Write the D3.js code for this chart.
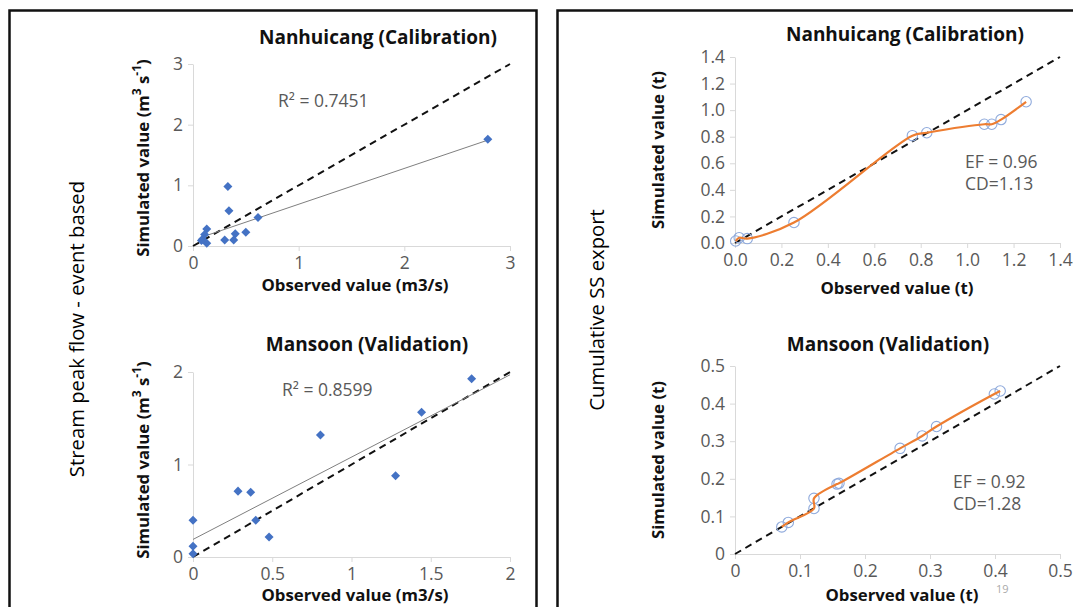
<!DOCTYPE html>
<html>
<head>
<meta charset="utf-8">
<script src="https://cdn.jsdelivr.net/npm/d3@7"></script>
<style>
  html, body { margin: 0; padding: 0; background: #fff; }
  svg { display: block; }
  text { font-family: "Open Sans", "Noto Sans", sans-serif; }
</style>
</head>
<body>
<svg id="chart" width="1073" height="607"></svg>
<script>
// ---------------- DATA ----------------
// Stream peak flow, Nanhuicang (Calibration)
const peakCalObs = [2.79, 0.33, 0.34, 0.615, 0.50, 0.40, 0.385, 0.30, 0.13, 0.11, 0.09, 0.13, 0.08];
const peakCalSim = [1.76, 0.98, 0.58, 0.47, 0.225, 0.20, 0.10, 0.10, 0.28, 0.19, 0.11, 0.045, 0.09];
const peakCalTrendX = [0.08, 2.79];
const peakCalTrendY = [0.145, 1.745];
const peakCalR2 = "R\u00B2 = 0.7451";
const peakCalTicks = [0, 1, 2, 3];

// Stream peak flow, Mansoon (Validation)
const peakValObs = [1.758, 1.442, 1.278, 0.804, 0.284, 0.364, 0.396, 0.48, 0.0, 0.0, 0.0];
const peakValSim = [1.928, 1.566, 0.879, 1.32, 0.712, 0.70, 0.398, 0.217, 0.398, 0.116, 0.036];
const peakValTrendX = [0, 2];
const peakValTrendY = [0.19, 1.97];
const peakValR2 = "R\u00B2 = 0.8599";
const peakValXTicks = [0, 0.5, 1, 1.5, 2];
const peakValYTicks = [0, 1, 2];

// Cumulative SS export, Nanhuicang (Calibration)
const ssCalObs = [0.003, 0.018, 0.053, 0.254, 0.764, 0.826, 1.074, 1.106, 1.146, 1.254];
const ssCalSim = [0.015, 0.040, 0.033, 0.154, 0.808, 0.830, 0.894, 0.894, 0.929, 1.063];
const ssCalTicks = [0, 0.2, 0.4, 0.6, 0.8, 1.0, 1.2, 1.4];
const ssCalStats = ["EF = 0.96", "CD=1.13"];

// Cumulative SS export, Mansoon (Validation)
const ssValObs = [0.072, 0.082, 0.1215, 0.1215, 0.157, 0.16, 0.254, 0.288, 0.31, 0.399, 0.408];
const ssValSim = [0.072, 0.084, 0.121, 0.148, 0.186, 0.188, 0.281, 0.314, 0.339, 0.4255, 0.4335];
const ssValTicks = [0, 0.1, 0.2, 0.3, 0.4, 0.5];
const ssValStats = ["EF = 0.92", "CD=1.28"];

const leftGroupLabel = "Stream peak flow - event based";
const rightGroupLabel = "Cumulative SS export";

// ---------------- DRAW ----------------
const svg = d3.select("#chart");
const AXIS = "#d9d9d9", LABEL = "#595959";
const TICKFS = 17.5;

// frames
svg.append("rect").attr("x", 9.5).attr("y", 10.5).attr("width", 527).attr("height", 620)
  .attr("fill", "none").attr("stroke", "#111").attr("stroke-width", 2.5);
svg.append("rect").attr("x", 557.5).attr("y", 10.5).attr("width", 540).attr("height", 620)
  .attr("fill", "none").attr("stroke", "#111").attr("stroke-width", 2.5);

svg.append("text").attr("transform", "translate(84,329) rotate(-90)")
  .attr("text-anchor", "middle").attr("font-size", 20.3).attr("font-weight", 500).attr("fill", "#000").text(leftGroupLabel);
svg.append("text").attr("transform", "translate(604,310) rotate(-90)")
  .attr("text-anchor", "middle").attr("font-size", 20.3).attr("font-weight", 500).attr("fill", "#000").text(rightGroupLabel);

function panel(cfg) {
  const g = svg.append("g");
  const x = d3.scaleLinear().domain(cfg.xDomain).range(cfg.xRange);
  const y = d3.scaleLinear().domain(cfg.yDomain).range(cfg.yRange);

  const xa = g.append("g").attr("transform", `translate(0,${cfg.yRange[0]})`)
    .call(d3.axisBottom(x).tickValues(cfg.xTicks).tickFormat(cfg.xFmt).tickSize(5).tickSizeOuter(0).tickPadding(6));
  const ya = g.append("g").attr("transform", `translate(${cfg.xRange[0]},0)`)
    .call(d3.axisLeft(y).tickValues(cfg.yTicks).tickFormat(cfg.yFmt).tickSize(5).tickSizeOuter(0).tickPadding(5));
  [xa, ya].forEach(a => {
    a.select(".domain").attr("stroke", AXIS).attr("stroke-width", 1);
    a.selectAll(".tick line").attr("stroke", AXIS);
    a.selectAll(".tick text").attr("fill", LABEL).attr("font-size", TICKFS)
      .attr("font-family", "'Open Sans', sans-serif");
  });

  // 1:1 dashed line
  const m = Math.min(cfg.xDomain[1], cfg.yDomain[1]);
  g.append("line").attr("x1", x(0)).attr("y1", y(0)).attr("x2", x(m)).attr("y2", y(m))
    .attr("stroke", "#111").attr("stroke-width", 2).attr("stroke-dasharray", "7,5");

  const pts = cfg.obs.map((o, i) => [o, cfg.sim[i]]);

  if (cfg.trendX) {
    g.append("line").attr("x1", x(cfg.trendX[0])).attr("y1", y(cfg.trendY[0]))
      .attr("x2", x(cfg.trendX[1])).attr("y2", y(cfg.trendY[1]))
      .attr("stroke", "#7f7f7f").attr("stroke-width", 1);
    g.selectAll("path.pt").data(pts).enter().append("path").attr("class", "pt")
      .attr("d", d3.symbol(d3.symbolDiamond2, 52))
      .attr("transform", d => `translate(${x(d[0])},${y(d[1])})`)
      .attr("fill", "#4472c4");
  } else {
    g.selectAll("circle").data(pts).enter().append("circle")
      .attr("cx", d => x(d[0])).attr("cy", d => y(d[1])).attr("r", 5.2)
      .attr("fill", "none").attr("stroke", "#8faadc").attr("stroke-width", 1.1);
    g.append("path").datum(pts)
      .attr("d", d3.line().x(d => x(d[0])).y(d => y(d[1])).curve(d3.curveCatmullRom.alpha(0.5)))
      .attr("fill", "none").attr("stroke", "#ed7d31").attr("stroke-width", 2.2);
  }

  // title
  g.append("text").attr("x", cfg.title[1]).attr("y", cfg.title[2]).attr("text-anchor", "middle")
    .attr("font-size", 19).attr("font-weight", "bold").attr("fill", "#111").text(cfg.title[0]);
  // x title
  g.append("text").attr("x", cfg.xTitle[1]).attr("y", cfg.xTitle[2]).attr("text-anchor", "middle")
    .attr("font-size", 16.8).attr("font-weight", "bold").attr("fill", "#111").text(cfg.xTitle[0]);
  // y title
  const yt = g.append("text").attr("transform", `translate(${cfg.yTitlePos[0]},${cfg.yTitlePos[1]}) rotate(-90)`)
    .attr("text-anchor", "middle").attr("font-size", 16.8).attr("font-weight", "bold").attr("fill", "#111");
  if (cfg.yTitleUnits) {
    yt.append("tspan").text("Simulated value (m");
    yt.append("tspan").attr("baseline-shift", "super").attr("font-size", 12).text("3");
    yt.append("tspan").text(" s");
    yt.append("tspan").attr("baseline-shift", "super").attr("font-size", 12).text("-1");
    yt.append("tspan").text(")");
  } else {
    yt.text("Simulated value (t)");
  }
  // annotations
  cfg.notes.forEach((n, i) => {
    g.append("text").attr("x", cfg.notePos[0]).attr("y", cfg.notePos[1] + i * 22)
      .attr("font-size", TICKFS).attr("fill", LABEL).text(n);
  });
}

const intFmt = d3.format("d");
const genFmt = d => d3.format("~g")(d);

panel({
  xDomain: [0, 3], yDomain: [0, 3], xRange: [193, 510], yRange: [246, 64],
  xTicks: peakCalTicks, yTicks: peakCalTicks, xFmt: intFmt, yFmt: intFmt,
  obs: peakCalObs, sim: peakCalSim, trendX: peakCalTrendX, trendY: peakCalTrendY,
  title: ["Nanhuicang (Calibration)", 378, 44],
  xTitle: ["Observed value (m3/s)", 355, 291],
  yTitlePos: [149, 158], yTitleUnits: true,
  notes: [peakCalR2], notePos: [278, 107]
});

panel({
  xDomain: [0, 2], yDomain: [0, 2], xRange: [193, 510], yRange: [557, 372],
  xTicks: peakValXTicks, yTicks: peakValYTicks, xFmt: genFmt, yFmt: intFmt,
  obs: peakValObs, sim: peakValSim, trendX: peakValTrendX, trendY: peakValTrendY,
  title: ["Mansoon (Validation)", 367, 351],
  xTitle: ["Observed value (m3/s)", 355, 601],
  yTitlePos: [149, 460], yTitleUnits: true,
  notes: [peakValR2], notePos: [282, 396]
});

panel({
  xDomain: [0, 1.4], yDomain: [0, 1.4], xRange: [735, 1060], yRange: [243, 57],
  xTicks: ssCalTicks, yTicks: ssCalTicks, xFmt: d3.format(".1f"), yFmt: d3.format(".1f"),
  obs: ssCalObs, sim: ssCalSim,
  title: ["Nanhuicang (Calibration)", 905, 41],
  xTitle: ["Observed value (t)", 897, 294],
  yTitlePos: [664, 150], yTitleUnits: false,
  notes: ssCalStats, notePos: [965, 168]
});

panel({
  xDomain: [0, 0.5], yDomain: [0, 0.5], xRange: [735, 1060], yRange: [554, 366],
  xTicks: ssValTicks, yTicks: ssValTicks, xFmt: genFmt, yFmt: genFmt,
  obs: ssValObs, sim: ssValSim,
  title: ["Mansoon (Validation)", 888, 351],
  xTitle: ["Observed value (t)", 902, 601],
  yTitlePos: [664, 460], yTitleUnits: false,
  notes: ssValStats, notePos: [953, 488]
});

svg.append("text").attr("x", 996).attr("y", 593).attr("font-size", 11).attr("fill", "#aaa").text("19");
</script>
</body>
</html>
